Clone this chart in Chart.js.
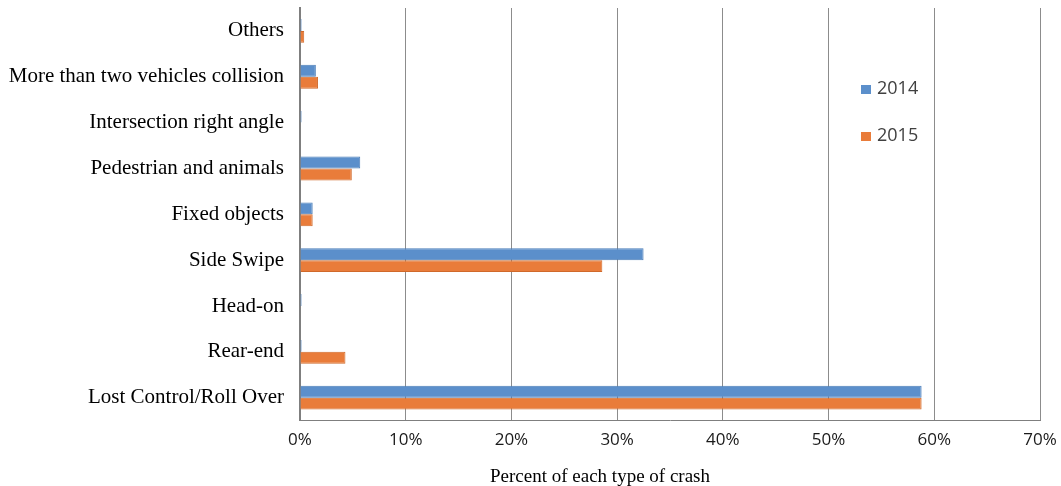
<!DOCTYPE html>
<html>
<head>
<meta charset="utf-8">
<script src="https://cdn.jsdelivr.net/npm/chart.js@4"></script>
<style>
  html, body { margin: 0; padding: 0; background: #fff; overflow: hidden; }
  #wrap { width: 1061px; height: 486px; position: relative; }
  #x-title {
    position: absolute; left: 400px; width: 400px; top: 465px;
    text-align: center; font: 19px "Liberation Serif", serif; color: #000;
  }
</style>
</head>
<body>
<div id="wrap">
  <canvas id="crash-plot"></canvas>
  <div id="x-title">Percent of each type of crash</div>
</div>
<script>
var categories = ['Others', 'More than two vehicles collision', 'Intersection right angle',
  'Pedestrian and animals', 'Fixed objects', 'Side Swipe', 'Head-on', 'Rear-end',
  'Lost Control/Roll Over'];
var seriesNames = ['2014', '2015'];
var values2014 = [0.15, 1.5, 0.15, 5.7, 1.2, 32.5, 0.15, 0.15, 58.8];
var values2015 = [0.4, 1.7, 0, 4.9, 1.2, 28.6, 0, 4.3, 58.8];
var xTicks = [0, 10, 20, 30, 40, 50, 60, 70];

// legend sits inside the plot, so draw it by hand
var insideLegend = {
  id: 'insideLegend',
  afterDraw: function(chart) {
    var ctx = chart.ctx;
    ctx.save();
    ctx.font = '18px "Open Sans", sans-serif';
    ctx.textBaseline = 'middle';
    chart.data.datasets.forEach(function(ds, i) {
      var y = 89 + i * 47;
      ctx.fillStyle = ds.backgroundColor;
      ctx.fillRect(861, y - 4, 10, 9);
      ctx.fillStyle = '#404040';
      ctx.fillText(ds.label, 877, y);
    });
    ctx.restore();
  }
};

function noEdgePadding(axis) {
  axis.paddingTop = 0;
  axis.paddingBottom = 0;
  axis.paddingLeft = 0;
  axis.paddingRight = 0;
}

var ctx = document.getElementById('crash-plot').getContext('2d');
var curChart = new Chart(ctx, {
  type: 'bar',
  data: {
    labels: categories,
    datasets: [
      { label: seriesNames[0], data: values2014, backgroundColor: '#5B8FCB', borderColor: '#4A7DB8', borderWidth: 1 },
      { label: seriesNames[1], data: values2015, backgroundColor: '#E97C3A', borderColor: '#D0692A', borderWidth: 1 }
    ]
  },
  plugins: [insideLegend],
  options: {
    indexAxis: 'y',
    responsive: true,
    maintainAspectRatio: false,
    animation: false,
    layout: { padding: { top: 8, right: 21, left: 2, bottom: 27 } },
    datasets: { bar: { categoryPercentage: 0.52, barPercentage: 1 } },
    plugins: {
      legend: { display: false },
      tooltip: { enabled: false }
    },
    scales: {
      x: {
        min: 0, max: 70,
        afterBuildTicks: function(axis) {
          axis.ticks = xTicks.map(function(v) { return { value: v }; });
        },
        afterFit: noEdgePadding,
        grid: { color: '#8c8c8c', lineWidth: 1, drawTicks: false },
        border: { color: '#7f7f7f', width: 1 },
        ticks: {
          padding: 9,
          color: '#1a1a1a',
          font: { family: '"Open Sans", sans-serif', size: 17 },
          callback: function(v) { return v + '%'; }
        }
      },
      y: {
        afterFit: function(axis) {
          noEdgePadding(axis);
          axis.width = 298;
        },
        grid: { display: false, drawTicks: false },
        border: { color: '#7f7f7f', width: 2 },
        ticks: {
          padding: 16,
          color: '#000',
          font: { family: '"Liberation Serif", serif', size: 21 }
        }
      }
    }
  }
});
</script>
</body>
</html>
